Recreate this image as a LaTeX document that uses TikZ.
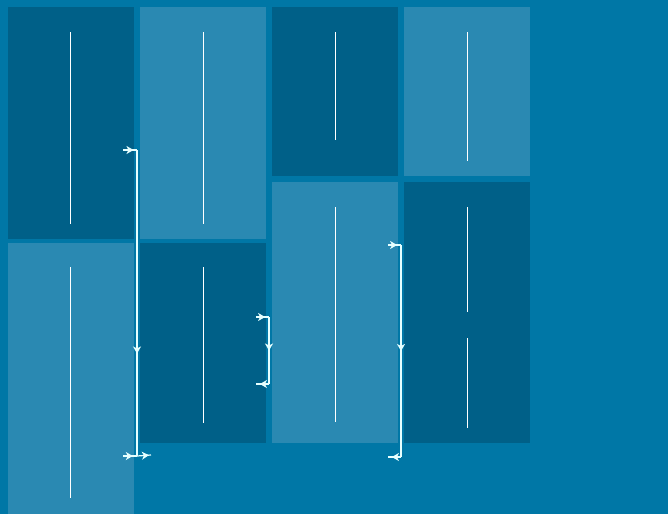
\documentclass[tikz,border=0pt]{standalone}
\usetikzlibrary{arrows.meta,decorations.markings}
\definecolor{bgc}{RGB}{0,119,166}
\definecolor{dk}{RGB}{0,96,136}
\definecolor{lt}{RGB}{42,137,178}
\definecolor{wire}{RGB}{230,255,255}
\tikzset{
  box/.style={draw=none,anchor=north west,inner sep=0pt,outer sep=0pt,minimum width=126pt},
  dbox/.style={box,fill=dk},
  lbox/.style={box,fill=lt},
  bar/.style={draw=white,line width=1pt},
  wirel/.style={draw=wire,line width=1.2pt},
  amark/.style={wirel,postaction={decorate},decoration={markings,mark=at position #1 with {\arrow{Stealth[length=7pt,width=8pt,inset=2pt]}}}}
}
\begin{document}
\begin{tikzpicture}[x=1pt,y=-1pt]
\fill[bgc] (0,0) rectangle (668,514);
\useasboundingbox (0,0) rectangle (668,514);
% boxes
\node[dbox,minimum height=232pt] (b1) at (8,7) {};
\node[lbox,minimum height=232pt] (b2) at (140,7) {};
\node[dbox,minimum height=169pt] (b3) at (272,7) {};
\node[lbox,minimum height=169pt] (b4) at (404,7) {};
\node[lbox,minimum height=271pt] (b5) at (8,243) {};
\node[dbox,minimum height=200pt] (b6) at (140,243) {};
\node[lbox,minimum height=261pt] (b7) at (272,182) {};
\node[dbox,minimum height=261pt] (b8) at (404,182) {};
% inner bars
\draw[bar] (70,32) -- (70,224);
\draw[bar] (203,32) -- (203,224);
\draw[bar] (335,32) -- (335,140);
\draw[bar] (467,32) -- (467,161);
\draw[bar] (70,267) -- (70,498);
\draw[bar] (203,267) -- (203,423);
\draw[bar] (335,207) -- (335,422);
\draw[bar] (467,207) -- (467,312);
\draw[bar] (467,338) -- (467,428);
% connector 1
\coordinate (p1a) at (123,150);
\coordinate (p1b) at (137,150);
\coordinate (p1c) at (137,456);
\coordinate (p1d) at (123,456);
\coordinate (p1e) at (151,455);
\draw[amark=0.75] (p1a) -- (p1b);
\draw[amark=0.665] (p1b) -- (p1c);
\draw[amark=0.7] (p1d) -- (p1c);
\draw[amark=0.85] (p1c) -- (p1e);
% connector 2
\coordinate (p2a) at (256,317);
\coordinate (p2b) at (269,317);
\coordinate (p2c) at (269,384);
\coordinate (p2d) at (256,384);
\draw[amark=0.7] (p2a) -- (p2b);
\draw[amark=0.5] (p2b) -- (p2c);
\draw[amark=0.7] (p2c) -- (p2d);
% connector 3
\coordinate (p3a) at (388,245);
\coordinate (p3b) at (401,245);
\coordinate (p3c) at (401,457);
\coordinate (p3d) at (388,457);
\draw[amark=0.7] (p3a) -- (p3b);
\draw[amark=0.5] (p3b) -- (p3c);
\draw[amark=0.7] (p3c) -- (p3d);
\end{tikzpicture}
\end{document}
